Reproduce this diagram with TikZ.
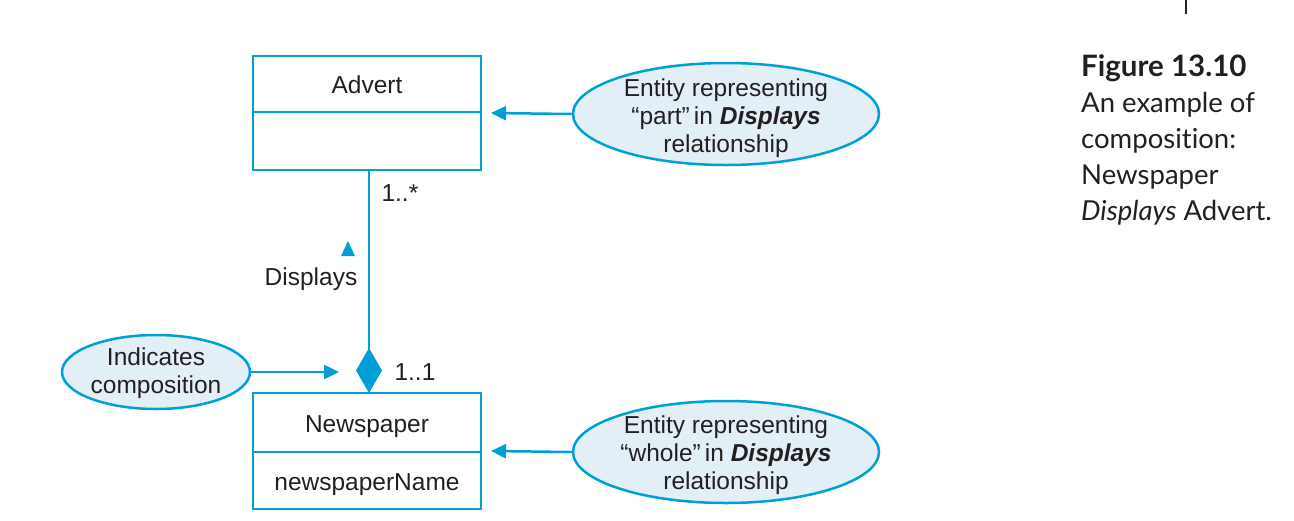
\documentclass[tikz,border=0pt]{standalone}
\usepackage{fontspec}
\setmainfont{Liberation Sans}
\newfontfamily\capfont{Lato}[Ligatures=NoCommon]
\usetikzlibrary{arrows.meta,positioning,shapes.geometric}
\definecolor{umlblue}{HTML}{00A0D6}
\definecolor{ellfill}{HTML}{E3EFF7}
\definecolor{ink}{HTML}{231F20}
\begin{document}
\begin{tikzpicture}[x=1pt,y=-1pt,
  every node/.style={text=ink,font=\fontsize{24.5}{28}\selectfont},
  box/.style={draw=umlblue,line width=2.5pt,minimum width=228pt,inner sep=0pt,outer sep=0pt,
    text height=19pt,text depth=0pt},
  note/.style={ellipse,draw=umlblue,fill=ellfill,line width=2.5pt,inner sep=0pt},
  notetext/.style={align=center,inner sep=0pt},
  conn/.style={draw=umlblue,line width=2.5pt},
  tip/.style={-{Triangle[length=15pt,width=14pt]}}
]
\useasboundingbox (0,0) rectangle (1294,520);
% classes
\node[box,minimum height=56pt] (advT) at (367,84) {Advert};
\node[box,minimum height=58pt,anchor=north] (advB) at (advT.south) {};
\node[box,minimum height=59pt] (newsT) at (367,422.5) {Newspaper};
\node[box,minimum height=57pt,anchor=north] (newsB) at (newsT.south) {newspaperName};
% composition line
\coordinate (ltop) at (369,170);
\coordinate (lbot) at (369,393);
\draw[conn,-{Diamond[length=45pt,width=26pt]}] (ltop) -- (lbot);
\node[anchor=west] (m1) at (378,193) {1..*};
\node[anchor=west] (m2) at (391,372) {1..1};
\node (disp) at (311,279) {Displays};
\fill[umlblue] (341,256) -- (355,256) -- (348,241) -- cycle;
% notes
\node[note,minimum width=306pt,minimum height=102pt] (e1) at (726,114) {};
\node[notetext] (e1t) at (726,118)
  {Entity representing\\``part''\,in \textbf{\textit{Displays}}\\relationship};
\node[note,minimum width=306pt,minimum height=102pt] (e2) at (726,452) {};
\node[notetext] (e2t) at (726,455)
  {Entity representing\\``whole''\,in \textbf{\textit{Displays}}\\relationship};
\node[note,minimum width=188pt,minimum height=74pt] (e3) at (156,372) {};
\node[notetext] (e3t) at (156,373) {Indicates\\composition};
\coordinate (a1) at (491,113);
\coordinate (a2) at (491,451);
\coordinate (a3) at (339,372);
\draw[conn,tip] (e1.west) -- (a1);
\draw[conn,tip] (e2.west) -- (a2);
\draw[conn,tip] (e3.east) -- (a3);
% caption
\node[anchor=north west,align=left,inner sep=0pt,font=\capfont\fontsize{27.5}{36}\selectfont] (cap) at (1081,54)
  {{\fontsize{29.5}{36}\selectfont\textbf{Figure 13.10}}\\An example of\\composition:\\Newspaper\\\textit{Displays} Advert.};
\draw[ink,line width=2pt] (1186,0) -- (1186,14);
\end{tikzpicture}
\end{document}
